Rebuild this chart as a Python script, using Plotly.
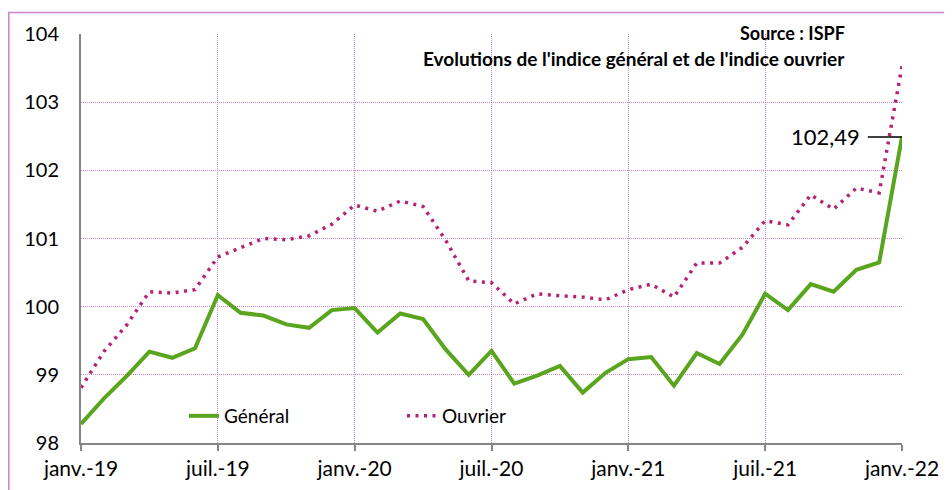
import plotly.graph_objects as go

month_names = ["janv.", "févr.", "mars", "avr.", "mai", "juin",
               "juil.", "août", "sept.", "oct.", "nov.", "déc."]
years = ["19", "20", "21", "22"]
months = [f"{m}-{y}" for y in years for m in month_names][:37]

general = [98.28, 98.65, 98.98, 99.34, 99.25, 99.39, 100.17, 99.91, 99.87, 99.74,
           99.69, 99.95, 99.98, 99.62, 99.90, 99.82, 99.37, 99.00, 99.35, 98.87,
           98.99, 99.13, 98.74, 99.03, 99.23, 99.26, 98.84, 99.32, 99.16, 99.59,
           100.19, 99.95, 100.33, 100.22, 100.54, 100.65, 102.49]
ouvrier = [98.81, 99.34, 99.73, 100.22, 100.20, 100.25, 100.73, 100.86, 101.00, 100.98,
           101.04, 101.21, 101.49, 101.40, 101.55, 101.47, 100.97, 100.38, 100.35, 100.04,
           100.19, 100.16, 100.14, 100.10, 100.25, 100.33, 100.14, 100.64, 100.64, 100.87,
           101.26, 101.20, 101.64, 101.43, 101.74, 101.67, 103.53]

tick_idx = [0, 6, 12, 18, 24, 30, 36]
tick_text = [months[i] for i in tick_idx]
y_ticks = [98, 99, 100, 101, 102, 103, 104]

GREEN = "rgb(90,165,30)"
PINK = "rgb(180,35,115)"
GRID = "rgb(204,130,204)"
AXIS = "rgb(134,134,134)"
FONT = "Lato"

x = list(range(len(months)))

fig = go.Figure()
fig.add_trace(go.Scatter(x=x, y=general, name="Général", mode="lines",
                         line=dict(color=GREEN, width=4)))
fig.add_trace(go.Scatter(x=x, y=ouvrier, name="Ouvrier", mode="lines",
                         line=dict(color=PINK, width=3.5, dash="3px,5.5px")))

# page has an 8px body margin; figure coordinates are page coordinates minus 8
OFF = 8
W, H = 952 - OFF, 490 - OFF
L, T = 81 - OFF, 34 - OFF
R = W - (902 - OFF)
B = H - (443 - OFF)
pw, ph = W - L - R, H - T - B


def px(page_x):
    return (page_x - OFF - L) / pw


def py(page_y):
    return (H - B - (page_y - OFF)) / ph


fig.update_layout(
    width=W, height=H,
    margin=dict(l=L, r=R, t=T, b=B, autoexpand=False),
    paper_bgcolor="white", plot_bgcolor="white",
    font=dict(family=FONT, size=20, color="black"),
    showlegend=True,
    legend=dict(orientation="h", x=px(184), xanchor="left",
                y=py(416), yanchor="middle",
                entrywidth=173, entrywidthmode="pixels",
                font=dict(size=19), bgcolor="rgba(0,0,0,0)"),
    xaxis=dict(range=[0, 36], tickmode="array", tickvals=tick_idx, ticktext=tick_text,
               showgrid=True, gridcolor=GRID, griddash="1px,1px", gridwidth=1,
               showline=True, linecolor=AXIS, linewidth=2,
               ticks="outside", ticklen=6, tickcolor=AXIS, tickwidth=2,
               tickfont=dict(size=21), zeroline=False, automargin=False),
    yaxis=dict(range=[98, 104], tickmode="array", tickvals=y_ticks,
               ticktext=[str(v) for v in y_ticks],
               showgrid=True, gridcolor=GRID, griddash="1px,1px", gridwidth=1,
               showline=True, linecolor=AXIS, linewidth=2,
               ticks="", ticklabelstandoff=16, tickfont=dict(size=20), zeroline=False,
               automargin=False),
)

# outer border (left and top visible)
fig.add_shape(type="rect", xref="paper", yref="paper",
              x0=px(8.8), x1=px(975), y0=py(510), y1=py(12.5),
              line=dict(color=GRID, width=1.5), layer="below")

# titles
fig.add_annotation(xref="paper", yref="paper", x=px(847), y=py(33),
                   text="<b>Source : ISPF</b>", showarrow=False, xanchor="right",
                   yanchor="middle", font=dict(size=18))
fig.add_annotation(xref="paper", yref="paper", x=px(847), y=py(58),
                   text="<b>Evolutions de l'indice général et de l'indice ouvrier</b>",
                   showarrow=False, xanchor="right", yanchor="middle", font=dict(size=19))

# last value label
last = len(months) - 1
fig.add_shape(type="line", xref="x", yref="y", x0=last - 1.5, x1=last,
              y0=general[-1], y1=general[-1], line=dict(color="black", width=1.5))
fig.add_annotation(xref="x", yref="y", x=last - 1.5, y=general[-1],
                   text=f"{general[-1]:.2f}".replace(".", ","), showarrow=False,
                   xanchor="right", yanchor="middle", xshift=-6, font=dict(size=22))

fig.write_html("out.html")
